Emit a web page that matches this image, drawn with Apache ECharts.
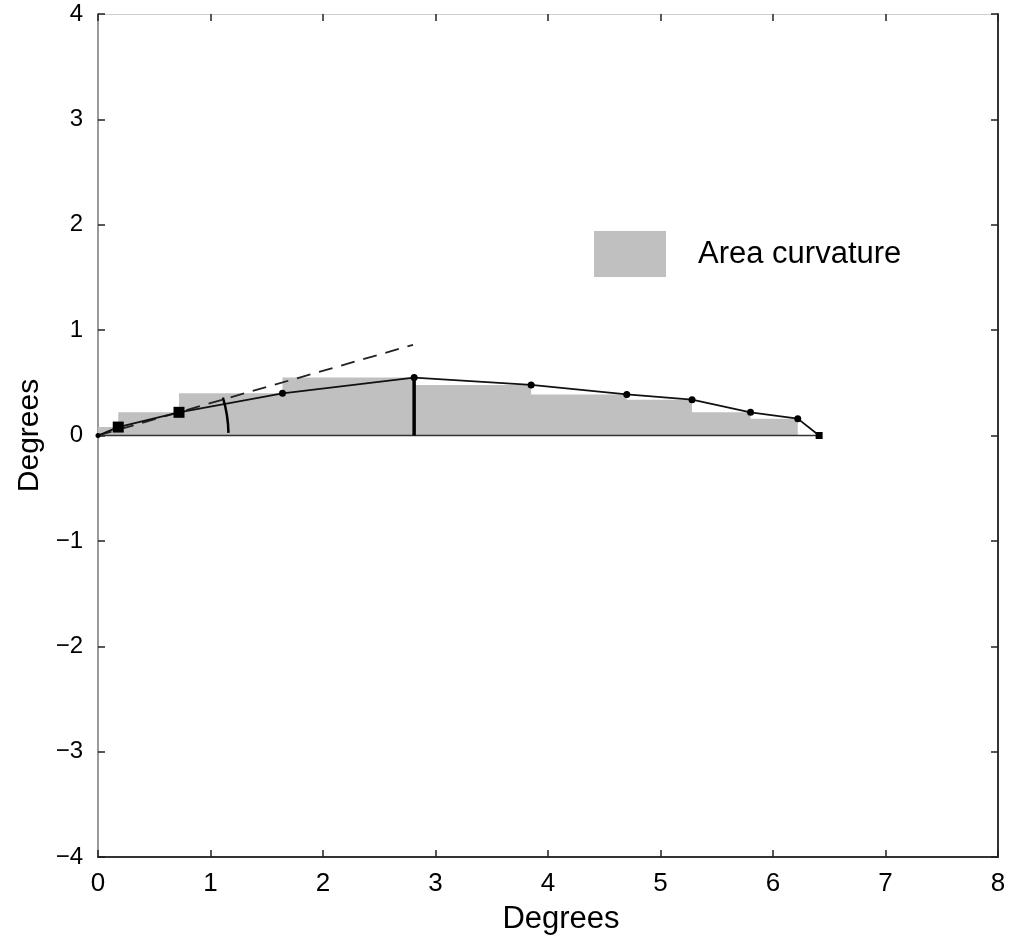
<!DOCTYPE html>
<html>
<head>
<meta charset="utf-8">
<script src="https://cdn.jsdelivr.net/npm/echarts@6/dist/echarts.min.js"></script>
<style>
html,body{margin:0;padding:0;background:#fff;}
#chart{width:1025px;height:945px;}
</style>
</head>
<body>
<div id="chart"></div>
<script>
// ---- data ----
var curveX = [0, 0.18, 0.72, 1.64, 2.81, 3.85, 4.70, 5.28, 5.80, 6.22, 6.41];
var curveY = [0, 0.08, 0.22, 0.40, 0.55, 0.48, 0.39, 0.34, 0.22, 0.16, 0];
var tangentX = [0, 2.80];
var tangentY = [0, 0.86];
var arcRadius = 1.16;
var xTicks = [0, 1, 2, 3, 4, 5, 6, 7, 8];
var yTicks = [-4, -3, -2, -1, 0, 1, 2, 3, 4];
var legendName = 'Area curvature';
var axisName = 'Degrees';

// ---- derived ----
var curveData = curveX.map(function (x, i) { return [x, curveY[i]]; });
var peakIdx = curveY.indexOf(Math.max.apply(null, curveY));
var peakLine = [[curveX[peakIdx], 0], [curveX[peakIdx], curveY[peakIdx]]];
var baseLine = [[curveX[0], 0], [curveX[curveX.length - 1], 0]];
var tangentData = tangentX.map(function (x, i) { return [x, tangentY[i]]; });
var squareIdx = [1, 2, curveX.length - 1];

var FONT = '"Liberation Sans", Arial, Helvetica, sans-serif';
function fmt(v) { return String(v).replace('-', '\u2212'); }

var chart = echarts.init(document.getElementById('chart'), null, {renderer: 'canvas'});
var tickStyle = {show: true, inside: true, length: 7, lineStyle: {color: '#222', width: 1.5}};

var option = {
  backgroundColor: '#fff',
  animation: false,
  textStyle: {fontFamily: FONT},
  grid: {left: 98, right: 27, top: 14, bottom: 88, containLabel: false},
  legend: {
    show: true,
    left: 594, top: 231,
    padding: 0,
    itemWidth: 72, itemHeight: 46,
    icon: 'rect',
    data: [{name: legendName, icon: 'rect', itemStyle: {color: '#c0c0c0', borderWidth: 0}}],
    textStyle: {fontFamily: FONT, fontSize: 31, color: '#000', padding: [0, 0, 0, 27]},
    selectedMode: false
  },
  xAxis: [{
    type: 'value', min: xTicks[0], max: xTicks[xTicks.length - 1], interval: 1,
    position: 'bottom',
    name: axisName, nameLocation: 'middle', nameGap: 47,
    nameTextStyle: {fontFamily: FONT, fontSize: 31, color: '#000', padding: [0, 0, 0, 26]},
    axisLine: {show: true, onZero: false, lineStyle: {color: '#333', width: 2}},
    axisTick: tickStyle,
    axisLabel: {fontFamily: FONT, fontSize: 26, color: '#000', margin: 14, formatter: fmt},
    splitLine: {show: false}
  }, {
    type: 'value', min: xTicks[0], max: xTicks[xTicks.length - 1], interval: 1,
    position: 'top',
    axisLine: {show: true, onZero: false, lineStyle: {color: '#cfcfcf', width: 1}},
    axisTick: tickStyle,
    axisLabel: {show: false},
    splitLine: {show: false}
  }],
  yAxis: [{
    type: 'value', min: yTicks[0], max: yTicks[yTicks.length - 1], interval: 1,
    position: 'left',
    name: axisName, nameLocation: 'middle', nameGap: 50, nameRotate: 90,
    nameTextStyle: {fontFamily: FONT, fontSize: 30, color: '#000'},
    axisLine: {show: true, onZero: false, lineStyle: {color: '#999', width: 2}},
    axisTick: tickStyle,
    axisLabel: {fontFamily: FONT, fontSize: 24, color: '#000', margin: 15, formatter: fmt},
    splitLine: {show: false}
  }, {
    type: 'value', min: yTicks[0], max: yTicks[yTicks.length - 1], interval: 1,
    position: 'right',
    axisLine: {show: true, onZero: false, lineStyle: {color: '#333', width: 2}},
    axisTick: tickStyle,
    axisLabel: {show: false},
    splitLine: {show: false}
  }],
  series: [
    {
      name: legendName,
      type: 'line',
      data: curveData,
      step: 'start',
      symbol: 'none',
      color: '#c0c0c0',
      itemStyle: {color: '#c0c0c0'},
      lineStyle: {width: 0, opacity: 0},
      areaStyle: {color: '#c0c0c0', opacity: 1, origin: 0},
      z: 1
    },
    {
      name: 'base',
      type: 'line',
      data: baseLine,
      symbol: 'none',
      lineStyle: {color: '#333', width: 1.5},
      z: 2
    },
    {
      name: 'tangent',
      type: 'line',
      data: tangentData,
      symbol: 'none',
      lineStyle: {color: '#222', width: 1.8, type: [14, 9]},
      z: 3
    },
    {
      name: 'peak',
      type: 'line',
      data: peakLine,
      symbol: 'none',
      lineStyle: {color: '#000', width: 3.5},
      z: 4
    },
    {
      name: 'curve',
      type: 'line',
      data: curveData,
      symbol: function (v, p) { return squareIdx.indexOf(p.dataIndex) >= 0 ? 'rect' : 'circle'; },
      symbolSize: function (v, p) {
        if (p.dataIndex === 1 || p.dataIndex === 2) return 11;
        if (p.dataIndex === curveX.length - 1) return 7;
        if (p.dataIndex === 0) return 5;
        return 7;
      },
      showSymbol: true,
      itemStyle: {color: '#000'},
      lineStyle: {color: '#111', width: 1.8},
      z: 5
    },
    {
      name: 'angle',
      type: 'custom',
      data: [[tangentX[0], tangentY[0]]],
      renderItem: function (params, api) {
        var c = api.coord([api.value(0), api.value(1)]);
        var e = api.coord([tangentX[1], tangentY[1]]);
        var r = api.size([arcRadius, 0])[0];
        var ang = Math.atan2(e[1] - c[1], e[0] - c[0]);
        return {
          type: 'arc',
          shape: {cx: c[0], cy: c[1], r: r, startAngle: ang * 1.05, endAngle: -0.02, clockwise: true},
          style: {stroke: '#000', lineWidth: 2.5, fill: null}
        };
      },
      z: 6
    }
  ]
};
chart.setOption(option);
</script>
</body>
</html>
